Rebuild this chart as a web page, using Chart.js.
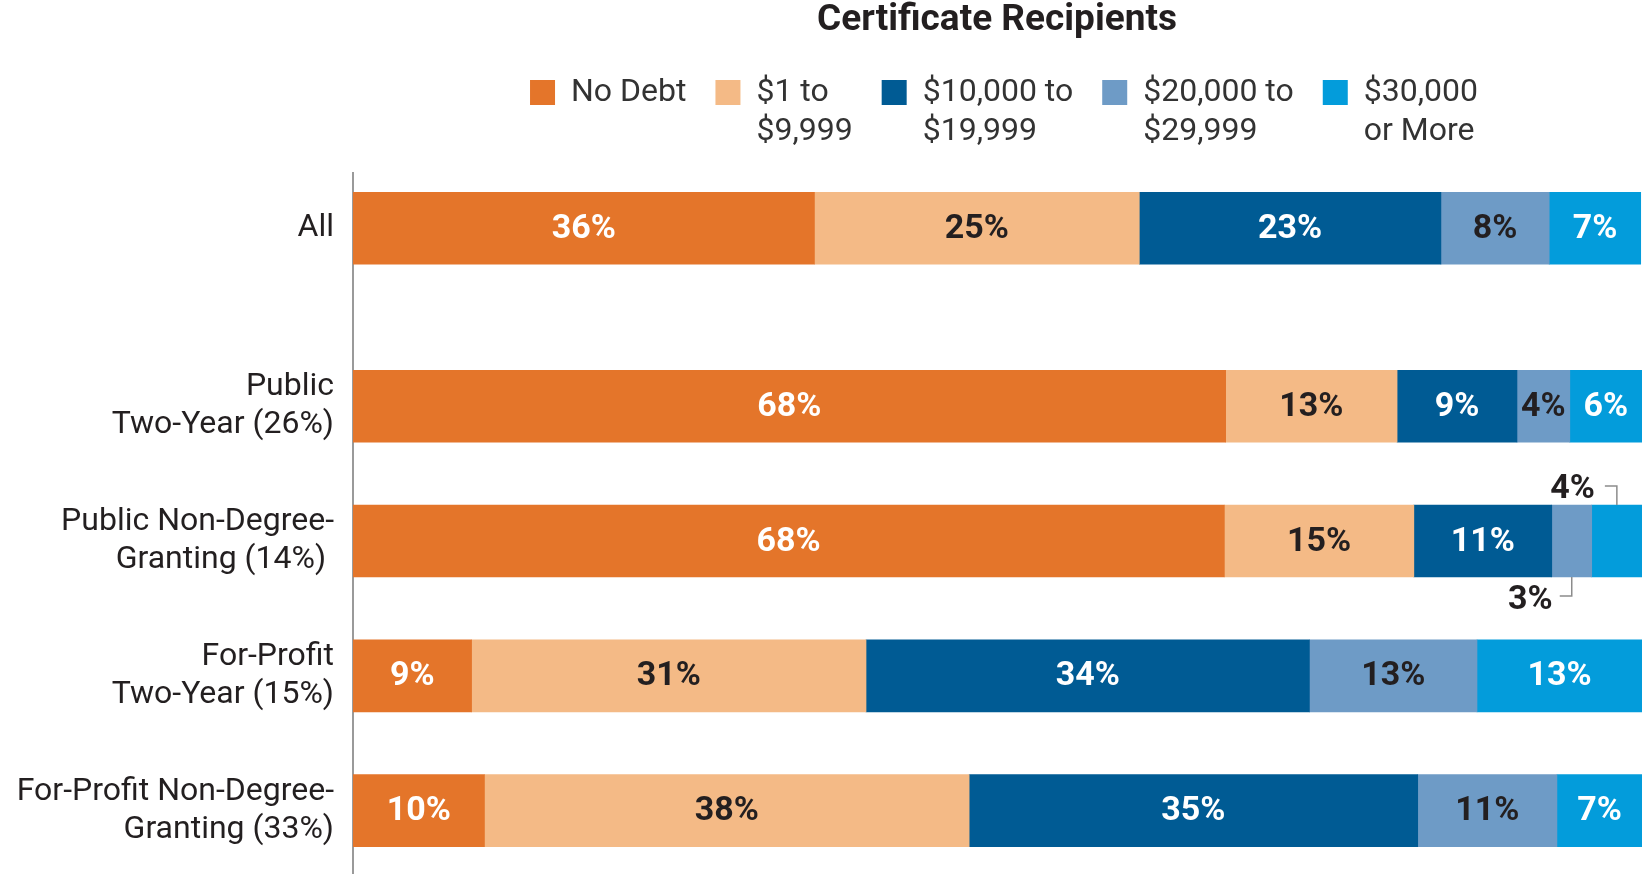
<!DOCTYPE html>
<html><head><meta charset="utf-8">
<script src="https://cdn.jsdelivr.net/npm/chart.js@4.4.1/dist/chart.umd.min.js"></script>
<style>html,body{margin:0;padding:0;background:#fff;}#wrap{width:1642px;height:874px;position:relative;}</style>
</head><body><div id="wrap"><canvas id="c"></canvas></div>
<script>
// ---- data ----
const chartTitle = 'Certificate Recipients';
const categories = [
  ['All'],
  ['Public', 'Two-Year (26%)'],
  ['Public Non-Degree-', 'Granting (14%) '],
  ['For-Profit', 'Two-Year (15%)'],
  ['For-Profit Non-Degree-', 'Granting (33%)']
];
const seriesNames = [['No Debt'], ['$1 to', '$9,999'], ['$10,000 to', '$19,999'], ['$20,000 to', '$29,999'], ['$30,000', 'or More']];
const noDebt        = [35.8, 67.7, 67.6,  9.2, 10.2];
const debt1to9999   = [25.2, 13.3, 14.7, 30.6, 37.6];
const debt10to19999 = [23.4,  9.3, 10.7, 34.4, 34.8];
const debt20to29999 = [ 8.4,  4.1,  3.1, 13.0, 10.8];
const debt30plus    = [ 7.1,  5.6,  3.9, 12.8,  6.6];

// ---- layout / style ----
const rowPos = [0, 1.32, 2.32, 3.32, 4.32];
const colors = ['#E4752A', '#F4BA86', '#005B94', '#6E9BC6', '#039CDB'];
const labelColors = ['#ffffff', '#231f20', '#ffffff', '#231f20', '#ffffff'];
const FONT = 'Roboto, "Open Sans", sans-serif';

const series = [noDebt, debt1to9999, debt10to19999, debt20to29999, debt30plus];

const datasets = series.map((vals, s) => ({
  label: seriesNames[s].join(' '),
  labelLines: seriesNames[s],
  data: vals.map((v, i) => ({x: v, y: rowPos[i]})),
  backgroundColor: colors[s],
  borderWidth: 0,
  barThickness: 72
}));

const titleLegendPlugin = {
  id: 'titleLegend',
  afterDraw(chart) {
    const ctx = chart.ctx;
    ctx.save();
    ctx.fillStyle = '#231f20';
    ctx.font = 'bold 37px ' + FONT;
    ctx.textAlign = 'center';
    ctx.textBaseline = 'middle';
    ctx.fillText(chartTitle, 997, 21);

    ctx.font = '32px ' + FONT;
    const box = 25, gapBox = 16, gapItem = 29;
    const items = chart.data.datasets.map(ds => ({
      lines: ds.labelLines,
      w: Math.max(...ds.labelLines.map(l => ctx.measureText(l).width)),
      color: ds.backgroundColor
    }));
    const total = items.reduce((s, it) => s + box + gapBox + it.w, 0) + gapItem * (items.length - 1);
    let x = 1004 - total / 2;
    ctx.textAlign = 'left';
    items.forEach(it => {
      ctx.fillStyle = it.color;
      ctx.fillRect(x, 80, box, box);
      ctx.fillStyle = '#333333';
      it.lines.forEach((l, k) => ctx.fillText(l, x + box + gapBox, 93 + k * 39));
      x += box + gapBox + it.w + gapItem;
    });
    ctx.restore();
  }
};

const valueLabelPlugin = {
  id: 'valueLabels',
  afterDatasetsDraw(chart) {
    const ctx = chart.ctx;
    ctx.save();
    ctx.font = 'bold 34px ' + FONT;
    ctx.textBaseline = 'middle';
    chart.data.datasets.forEach((ds, s) => {
      const meta = chart.getDatasetMeta(s);
      meta.data.forEach((el, i) => {
        const txt = Math.round(series[s][i]) + '%';
        const left = Math.min(el.x, el.base), right = Math.max(el.x, el.base);
        const cx = (left + right) / 2;
        const top = el.y - el.height / 2, bottom = el.y + el.height / 2;
        // narrow segments in the "Public Non-Degree" row are labelled outside with leader lines
        if (i === 2 && (s === 3 || s === 4)) {
          ctx.strokeStyle = '#8c8c8c';
          ctx.lineWidth = 1.5;
          ctx.fillStyle = '#231f20';
          ctx.textAlign = 'right';
          ctx.beginPath();
          if (s === 4) {
            const ly = top - 19;
            ctx.moveTo(cx - 12, ly); ctx.lineTo(cx, ly); ctx.lineTo(cx, top);
            ctx.stroke();
            ctx.fillText(txt, cx - 22, ly + 3);
          } else {
            const ly = bottom + 19;
            ctx.moveTo(cx - 12, ly); ctx.lineTo(cx, ly); ctx.lineTo(cx, bottom);
            ctx.stroke();
            ctx.fillText(txt, cx - 19, ly + 4);
          }
          return;
        }
        ctx.textAlign = 'center';
        ctx.fillStyle = labelColors[s];
        ctx.fillText(txt, cx, el.y + 1);
      });
    });
    ctx.restore();
  }
};

new Chart(document.getElementById('c'), {
  type: 'bar',
  data: { datasets },
  plugins: [titleLegendPlugin, valueLabelPlugin],
  options: {
    indexAxis: 'y',
    responsive: true,
    maintainAspectRatio: false,
    animation: false,
    layout: { padding: { top: 173, left: 0, right: 0, bottom: 0 } },
    plugins: { legend: { display: false }, title: { display: false }, tooltip: { enabled: false } },
    scales: {
      x: { type: 'linear', stacked: true, min: 0, max: 100, display: false },
      y: {
        type: 'linear', stacked: true, reverse: true, min: -0.41, max: 4.79,
        offset: false,
        grid: { display: false, offset: false },
        border: { display: true, color: '#9a9a9a', width: 2 },
        afterBuildTicks: scale => { scale.ticks = rowPos.map(v => ({ value: v })); },
        afterFit: scale => { scale.width = 353; scale.paddingTop = 0; scale.paddingBottom = 0; },
        ticks: {
          autoSkip: false,
          padding: 11,
          color: '#231f20',
          font: { family: FONT, size: 32, lineHeight: 1.18 },
          callback: (value, index) => categories[index]
        }
      }
    }
  }
});
</script>
</body></html>
